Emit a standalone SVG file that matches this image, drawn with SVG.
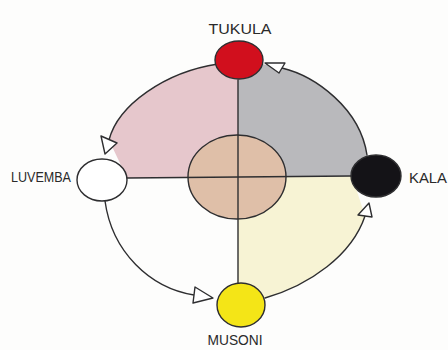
<svg xmlns="http://www.w3.org/2000/svg" width="448" height="350" viewBox="0 0 448 350">
<style>
.ln{fill:none;stroke:#2e2e30;stroke-width:1.4;stroke-linecap:round;stroke-linejoin:round}
.ah{fill:#ffffff;stroke:#2e2e30;stroke-width:1.4;stroke-linejoin:round}
.nd{stroke:#2e2e30;stroke-width:1.4}
.lb{font-family:"Liberation Sans",Arial,sans-serif;font-size:15px;fill:#2a2a2a}
</style>
<rect width="448" height="350" fill="#fdfdfc"/>
<g id="quadrants">
<path d="M238,178 L127,178 L109,140 C118,105 165,72 218,64 L238,64 Z" fill="#e6c7cc"/>
<path d="M238,177 L238,62 L262,64 L282,68 C315,76 360,108 367,155 L351,176 Z" fill="#b9b9bc"/>
<path d="M238,177 L352,176 L365,216 C352,255 310,285 265,298 L238,298 Z" fill="#f7f3d4"/>
</g>
<g id="center">
<ellipse cx="237" cy="177" rx="49" ry="42" fill="#dfbfa8" class="nd"/>
</g>
<g id="connectors">
<path class="ln" d="M127,178 L351,176"/>
<path class="ln" d="M238,80 L238,283"/>
<path class="ln" d="M218,64 C165,72 118,105 109,140"/>
<path class="ah" d="M101,136 L117,143 L105,154 Z"/>
<path class="ln" d="M105,201 C112,252 150,288 194,295"/>
<path class="ah" d="M195,287 L213,298 L193,303 Z"/>
<path class="ln" d="M265,298 C310,285 352,255 365,216"/>
<path class="ah" d="M358,215 L369,203 L372,217 Z"/>
<path class="ln" d="M367,155 C360,108 315,76 282,68"/>
<path class="ah" d="M285,63 L265,63 L279,73 Z"/>
</g>
<g id="tukula">
<ellipse cx="239" cy="60" rx="24" ry="19" fill="#d10f1d" class="nd"/>
<text class="lb" x="240" y="34" text-anchor="middle" textLength="63" lengthAdjust="spacingAndGlyphs">TUKULA</text>
</g>
<g id="luvemba">
<ellipse cx="102" cy="180" rx="25" ry="21" fill="#ffffff" class="nd"/>
<text class="lb" x="11" y="182" textLength="60" lengthAdjust="spacingAndGlyphs">LUVEMBA</text>
</g>
<g id="kala">
<ellipse cx="376" cy="176" rx="25" ry="21" fill="#141317" class="nd"/>
<text class="lb" x="409" y="183" font-size="16" textLength="38" lengthAdjust="spacingAndGlyphs">KALA</text>
</g>
<g id="musoni">
<ellipse cx="241" cy="305" rx="24" ry="22" fill="#f4e517" class="nd"/>
<text class="lb" x="235" y="345" text-anchor="middle" textLength="55" lengthAdjust="spacingAndGlyphs">MUSONI</text>
</g>
</svg>
